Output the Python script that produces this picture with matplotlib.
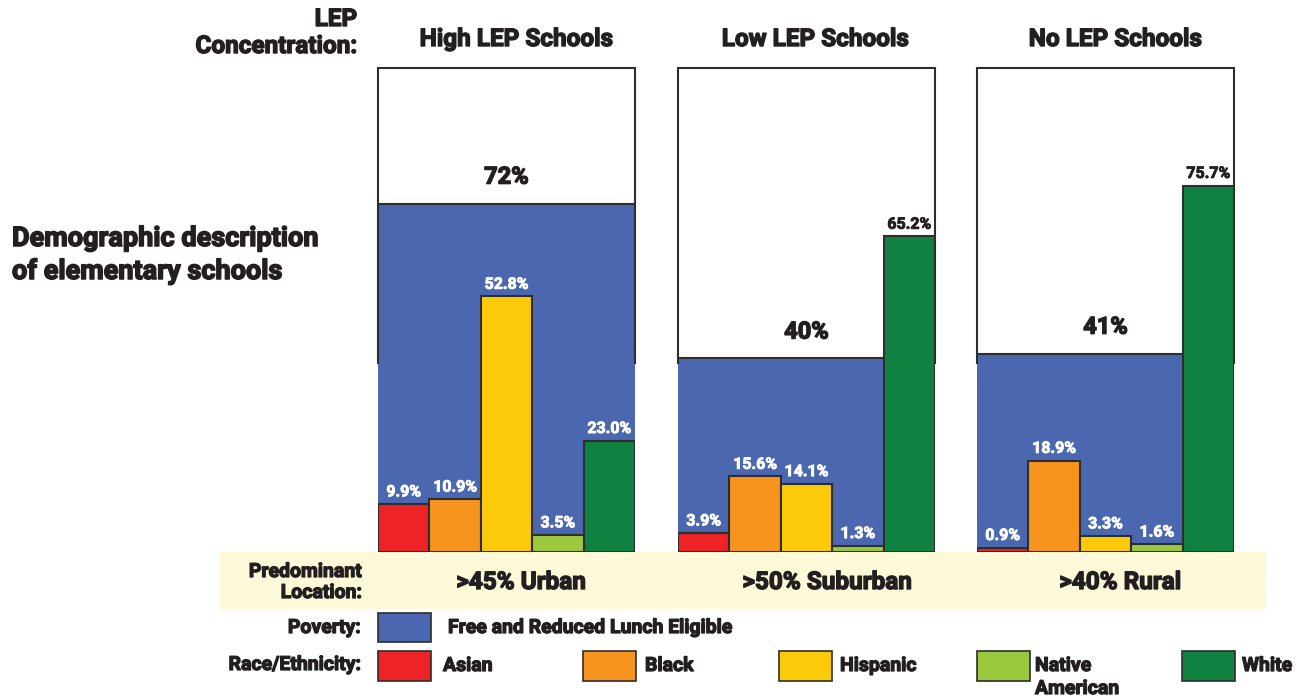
import matplotlib
matplotlib.use("Agg")
import matplotlib.pyplot as plt
from matplotlib.patches import Rectangle
import matplotlib.patheffects as pe

# ---- data -------------------------------------------------------------
groups = ["High LEP Schools", "Low LEP Schools", "No LEP Schools"]
locations = [">45% Urban", ">50% Suburban", ">40% Rural"]
poverty = [72, 40, 41]
races = ["Asian", "Black", "Hispanic", "Native\nAmerican", "White"]
asian = [9.9, 3.9, 0.9]
black = [10.9, 15.6, 18.9]
hispanic = [52.8, 14.1, 3.3]
native = [3.5, 1.3, 1.6]
white = [23.0, 65.2, 75.7]

race_colors = ["#ee2326", "#f7941e", "#fdca0a", "#9bc93d", "#0f8140"]
poverty_color = "#4a67b0"
band_color = "#fef9d8"
ink = "#231f20"
edge = "#2e2e2e"

# ---- fonts --------------------------------------------------------------
plt.rcParams["font.family"] = ["Roboto", "DejaVu Sans"]
WEIGHT = "bold"


def heavy(color, lw=0.9):
    # thicken the bold face a little for a heavier display look
    return [pe.withStroke(linewidth=lw, foreground=color)]


W, H = 1308, 696
fig = plt.figure(figsize=(W / 100, H / 100), dpi=100)


def fx(x):
    return x / W


def fy(y):
    return 1 - y / H


def label(x, y, s, size, ha="center", va="baseline", color=ink, lw=0.9):
    fig.text(fx(x), fy(y), s, fontsize=size, ha=ha, va=va, color=color,
             fontweight=WEIGHT, path_effects=heavy(color, lw))


# ---- location band ------------------------------------------------------
fig.patches.append(Rectangle((fx(220), fy(609)), fx(1266) - fx(220), fy(552) - fy(609),
                             transform=fig.transFigure, facecolor=band_color,
                             edgecolor="none", zorder=0))

# ---- panels -------------------------------------------------------------
panel_left = [378, 678, 977]
panel_w = 257
top_px, bot_px = 68, 552
title_x = [516, 815, 1115]
loc_x = [521, 827, 1120]

for i in range(3):
    ax = fig.add_axes([fx(panel_left[i]), fy(bot_px), panel_w / W, (bot_px - top_px) / H])
    ax.set_xlim(0, 5)
    ax.set_ylim(0, 100)
    ax.axis("off")
    ax.patch.set_alpha(0)

    # poverty block spanning the whole panel, top edge outlined
    ax.bar(2.5, poverty[i], width=5, color=poverty_color, edgecolor="none", zorder=1)
    ax.hlines(poverty[i], 0, 5, color=edge, lw=1.5, zorder=1.5)
    # panel frame: top and upper sides
    ax.plot([0, 0, 5, 5], [39, 100, 100, 39], color=edge, lw=1.5, zorder=1.6,
            solid_joinstyle="miter", clip_on=False)

    vals = [asian[i], black[i], hispanic[i], native[i], white[i]]
    xs = [0.5, 1.5, 2.5, 3.5, 4.5]
    ax.bar(xs, vals, width=1, color=race_colors, edgecolor=edge, linewidth=1.5, zorder=2)
    for x, v in zip(xs, vals):
        col = "white" if v + 5 < poverty[i] else ink
        ax.annotate(f"{v:.1f}%", (x, v), xytext=(0, 5.5), textcoords="offset points",
                    ha="center", va="baseline", fontsize=11.5, fontweight=WEIGHT,
                    color=col, zorder=3, path_effects=heavy(col, 0.6))

    # poverty share label above the blue block
    ax.annotate(f"{poverty[i]}%", (2.5, poverty[i]), xytext=(0, 19),
                textcoords="offset points", ha="center", va="center",
                fontsize=17, fontweight=WEIGHT, color=ink, zorder=3,
                path_effects=heavy(ink, 1.0))

    label(title_x[i], 46, groups[i], 17.5, lw=1.0)
    label(loc_x[i], 589, locations[i], 17.5, lw=1.0)

# ---- row headings -------------------------------------------------------
label(357, 26, "LEP", 17.5, ha="right", lw=1.0)
label(357, 53, "Concentration:", 17.5, ha="right", lw=1.0)
label(12, 246, "Demographic description", 19.5, ha="left", lw=1.1)
label(12, 279, "of elementary schools", 19.5, ha="left", lw=1.1)
label(362, 577, "Predominant", 14, ha="right")
label(362, 598, "Location:", 14, ha="right")

# ---- legend -------------------------------------------------------------
label(361, 633, "Poverty:", 14, ha="right")
fig.patches.append(Rectangle((fx(378), fy(642)), fx(431) - fx(378), fy(613) - fy(642),
                             transform=fig.transFigure, facecolor=poverty_color,
                             edgecolor=edge, lw=1.2))
label(448, 633, "Free and Reduced Lunch Eligible", 14, ha="left")

label(361, 670, "Race/Ethnicity:", 14, ha="right")
box_x = [378, 583, 779, 977, 1182]
text_x = [443, 645, 840, 1035, 1242]
for bx, tx, name, c in zip(box_x, text_x, races, race_colors):
    fig.patches.append(Rectangle((fx(bx), fy(681)), fx(bx + 53) - fx(bx), fy(651) - fy(681),
                                 transform=fig.transFigure, facecolor=c,
                                 edgecolor=edge, lw=1.2))
    for k, ln in enumerate(name.split("\n")):
        label(tx, 671 + 23 * k, ln, 14, ha="left")

fig.savefig("out.png", dpi=100, facecolor="white")
